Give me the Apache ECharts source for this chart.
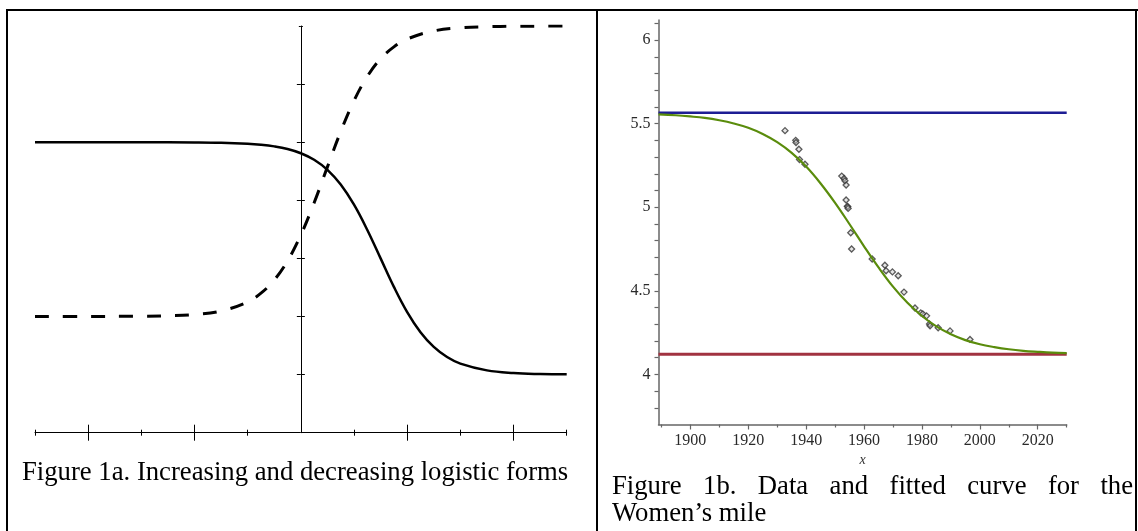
<!DOCTYPE html>
<html>
<head>
<meta charset="utf-8">
<title>Figure 1a / Figure 1b</title>
<script src="https://cdn.jsdelivr.net/npm/echarts@6/dist/echarts.min.js"></script>
<style>
  html, body { margin: 0; padding: 0; background: #fff; }
  #chart { width: 1138px; height: 531px; }
</style>
</head>
<body>
<div id="chart"></div>
<script>
// ---- Figure 1a: increasing / decreasing logistic forms
const formX = [-5, -4, -3, -2, -1.5, -1, -0.75, -0.5, -0.25, 0, 0.25, 0.5, 0.75, 1, 1.25, 1.5, 1.75, 2, 2.25, 2.5, 2.75, 3, 3.5, 4, 4.5, 5];
const decreasingY = [5.000, 5.000, 5.000, 4.996, 4.990, 4.973, 4.956, 4.928, 4.883, 4.810, 4.697, 4.524, 4.271, 3.924, 3.489, 3.000, 2.510, 2.076, 1.730, 1.477, 1.303, 1.190, 1.073, 1.027, 1.010, 1.004];
const increasingX = [-5, -4, -3, -2.5, -2, -1.5, -1, -0.75, -0.5, -0.25, 0, 0.25, 0.5, 0.75, 1, 1.25, 1.5, 1.75, 2, 2.5, 3, 3.5, 4, 4.5, 5];
const increasingY = [2.000, 2.001, 2.005, 2.013, 2.035, 2.095, 2.251, 2.401, 2.628, 2.958, 3.404, 3.958, 4.575, 5.183, 5.714, 6.132, 6.436, 6.641, 6.776, 6.915, 6.968, 6.988, 6.996, 6.998, 7.000];
const majorTicksA = [-4, -2, 2, 4];
const minorTicksA = [-5, -3, -1, 1, 3, 5];
const yTicksA = [1, 2, 3, 4, 5, 6];
const yTopTickA = [7];

// ---- Figure 1b: women's mile records and fitted curve
const recordYears = [1932.7, 1936.4, 1936.5, 1937.5, 1937.7, 1939.6, 1952.3, 1953.1, 1953.4, 1953.8, 1953.8, 1954.2, 1954.4, 1954.5, 1955.4, 1955.7, 1962.8, 1967.2, 1967.6, 1969.8, 1971.8, 1973.8, 1977.6, 1979.6, 1980.3, 1981.6, 1982.6, 1982.8, 1985.6, 1989.7, 1996.6];
const recordTimes = [5.458, 5.400, 5.387, 5.347, 5.285, 5.257, 5.186, 5.172, 5.158, 5.133, 5.043, 5.005, 5.003, 4.993, 4.847, 4.750, 4.690, 4.653, 4.620, 4.613, 4.590, 4.492, 4.397, 4.368, 4.362, 4.350, 4.301, 4.291, 4.279, 4.260, 4.209];
const fitYears = [1889, 1895, 1900, 1905, 1910, 1915, 1920, 1925, 1930, 1935, 1940, 1945, 1950, 1955, 1960, 1965, 1970, 1975, 1980, 1985, 1990, 1995, 2000, 2005, 2010, 2015, 2020, 2025, 2030];
const fitTimes = [5.555, 5.550, 5.543, 5.534, 5.520, 5.501, 5.475, 5.438, 5.389, 5.325, 5.243, 5.142, 5.026, 4.898, 4.766, 4.640, 4.525, 4.428, 4.349, 4.287, 4.240, 4.205, 4.180, 4.163, 4.150, 4.141, 4.135, 4.130, 4.127];
const asymptoteYears = [1889, 2030];
const upperAsymptote = [5.565, 5.565];
const lowerAsymptote = [4.12, 4.12];
const yearLabels = [1900, 1920, 1940, 1960, 1980, 2000, 2020];
const yearMinorTicks = [1890, 1910, 1930, 1950, 1970, 1990, 2010, 2030];
const timeLabels = [4, 4.5, 5, 5.5, 6];
const timeTicks = [3.8, 3.9, 4.0, 4.1, 4.2, 4.3, 4.4, 4.5, 4.6, 4.7, 4.8, 4.9, 5.0, 5.1, 5.2, 5.3, 5.4, 5.5, 5.6, 5.7, 5.8, 5.9, 6.0, 6.1];

const serif = '"Liberation Serif", "Times New Roman", serif';
const captionFont = '26.7px "Liberation Serif", "Times New Roman", serif';
const pairs = (xs, ys) => xs.map((x, i) => [x, ys[i]]);

// left panel: ticks cross the axes, so each tick set is drawn twice (outside + inside)
const axisA = (dim, extra) => Object.assign({
  type: 'value',
  gridIndex: 0,
  min: dim === 'x' ? -5 : 0,
  max: dim === 'x' ? 5 : 7,
  position: dim === 'x' ? 'bottom' : 'left',
  axisLine: { show: false, onZero: dim === 'y', onZeroAxisIndex: 0 },
  axisLabel: { show: false },
  splitLine: { show: false }
}, extra);
const tickA = (values, len, inside) => ({
  show: true, customValues: values, length: len, inside: inside,
  lineStyle: { color: '#000', width: 1 }
});

// caption of Figure 1b: first line justified across the cell
const justifiedWords = ['Figure', '1b.', 'Data', 'and', 'fitted', 'curve', 'for', 'the'];
const justifyLeft = 612, justifyRight = 1133;
const measure = document.createElement('canvas').getContext('2d');
measure.font = captionFont;
const wordWidths = justifiedWords.map(w => measure.measureText(w).width);
const wordGap = (justifyRight - justifyLeft - wordWidths.reduce((a, b) => a + b, 0)) / (justifiedWords.length - 1);
let cursor = justifyLeft;
const wordTexts = justifiedWords.map((w, i) => {
  const el = { type: 'text', x: cursor, y: 487, style: { text: w, font: captionFont, fill: '#000', align: 'left', verticalAlign: 'middle' } };
  cursor += wordWidths[i] + wordGap;
  return el;
});

const border = (x1, y1, x2, y2) => ({ type: 'line', shape: { x1, y1, x2, y2 }, style: { stroke: '#000', lineWidth: 2 }, silent: true });

const chart = echarts.init(document.getElementById('chart'));

const option = {
  backgroundColor: '#fff',
  animation: false,
  grid: [
    { left: 35, right: 571.3, top: 26, bottom: 98.3 },
    { left: 658.5, right: 71.3, top: 20, bottom: 106.5 }
  ],
  xAxis: [
    axisA('x', { axisLine: { show: true, onZero: false, lineStyle: { color: '#000', width: 1 } }, axisTick: tickA(majorTicksA, 8, false) }),
    axisA('x', { axisTick: tickA(majorTicksA, 8, true) }),
    axisA('x', { axisTick: tickA(minorTicksA, 3, false) }),
    axisA('x', { axisTick: tickA(minorTicksA, 3, true) }),
    {
      type: 'value', gridIndex: 1, min: 1889, max: 2030, position: 'bottom',
      axisLine: { onZero: false, lineStyle: { color: '#666', width: 1.5 } },
      axisTick: { customValues: yearLabels, length: 5, lineStyle: { color: '#666', width: 1.2 } },
      axisLabel: { customValues: yearLabels, formatter: v => String(v), margin: 8, fontFamily: serif, fontSize: 16, color: '#2a2a2a' },
      splitLine: { show: false },
      name: 'x', nameLocation: 'middle', nameGap: 27,
      nameTextStyle: { fontFamily: serif, fontStyle: 'italic', fontSize: 14, color: '#333' }
    },
    {
      type: 'value', gridIndex: 1, min: 1889, max: 2030, position: 'bottom',
      axisLine: { show: false, onZero: false },
      axisTick: { customValues: yearMinorTicks, length: 3, lineStyle: { color: '#666', width: 1.2 } },
      axisLabel: { show: false }, splitLine: { show: false }
    }
  ],
  yAxis: [
    axisA('y', { axisLine: { show: true, onZero: true, onZeroAxisIndex: 0, lineStyle: { color: '#000', width: 1 } }, axisTick: tickA(yTicksA, 4, false) }),
    axisA('y', { axisTick: tickA(yTicksA, 4, true) }),
    axisA('y', { axisTick: tickA(yTopTickA, 2, false) }),
    axisA('y', { axisTick: tickA(yTopTickA, 2, true) }),
    {
      type: 'value', gridIndex: 1, min: 3.7, max: 6.12, position: 'left',
      axisLine: { onZero: false, lineStyle: { color: '#666', width: 1.5 } },
      axisTick: { customValues: timeTicks, length: 4, lineStyle: { color: '#666', width: 1.2 } },
      axisLabel: { customValues: timeLabels, margin: 8, fontFamily: serif, fontSize: 16, color: '#2a2a2a' },
      splitLine: { show: false }
    }
  ],
  series: [
    {
      name: 'decreasing', type: 'line', xAxisIndex: 0, yAxisIndex: 0,
      data: pairs(formX, decreasingY), smooth: 0.4, showSymbol: false,
      lineStyle: { color: '#000', width: 2.5 }
    },
    {
      name: 'increasing', type: 'line', xAxisIndex: 0, yAxisIndex: 0,
      data: pairs(increasingX, increasingY), smooth: 0.4, showSymbol: false,
      lineStyle: { color: '#000', width: 3, type: [14, 14] }
    },
    {
      name: 'lower', type: 'line', xAxisIndex: 4, yAxisIndex: 4,
      data: pairs(asymptoteYears, lowerAsymptote), showSymbol: false,
      lineStyle: { color: '#a13340', width: 3 }
    },
    {
      name: 'upper', type: 'line', xAxisIndex: 4, yAxisIndex: 4,
      data: pairs(asymptoteYears, upperAsymptote), showSymbol: false,
      lineStyle: { color: '#1d1d94', width: 2.5 }
    },
    {
      name: 'fit', type: 'line', xAxisIndex: 4, yAxisIndex: 4,
      data: pairs(fitYears, fitTimes), smooth: 0.4, showSymbol: false,
      lineStyle: { color: '#5a8c0c', width: 2.2 }
    },
    {
      name: 'records', type: 'scatter', xAxisIndex: 4, yAxisIndex: 4,
      data: pairs(recordYears, recordTimes), symbol: 'diamond', symbolSize: 6,
      itemStyle: { color: 'rgba(200,200,200,0.6)', borderColor: '#333', borderWidth: 1.3 }
    }
  ],
  graphic: [
    border(6, 10, 1138, 10),
    border(7, 9, 7, 531),
    border(597, 9, 597, 531),
    border(1136, 9, 1136, 531),
    { type: 'text', x: 22, y: 473, style: { text: 'Figure 1a. Increasing and decreasing logistic forms', font: captionFont, fill: '#000', align: 'left', verticalAlign: 'middle' } },
    ...wordTexts,
    { type: 'text', x: 612, y: 514, style: { text: 'Women\u2019s mile', font: captionFont, fill: '#000', align: 'left', verticalAlign: 'middle' } }
  ]
};

chart.setOption(option);
window.addEventListener('resize', () => chart.resize());
</script>
</body>
</html>
